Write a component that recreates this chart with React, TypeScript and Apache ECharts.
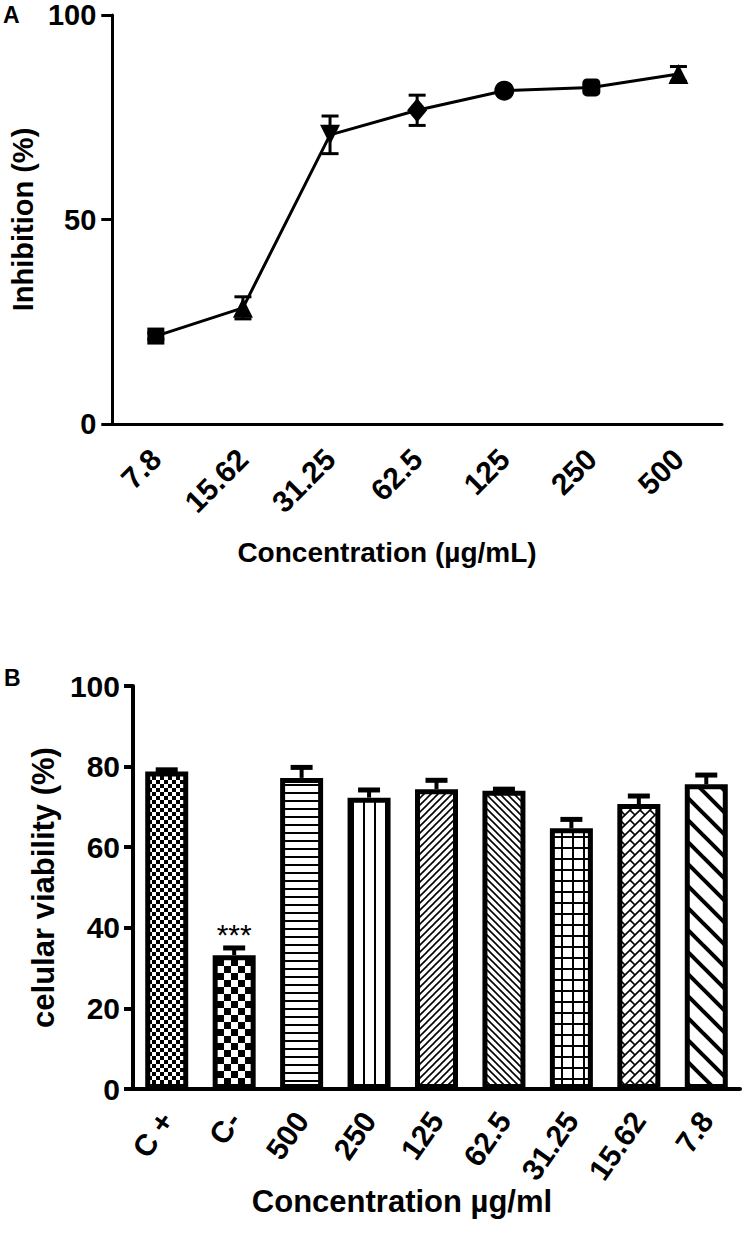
import React, { useEffect, useRef } from "react";
import * as echarts from "echarts";

const FONT = "'Liberation Sans', Arial, Helvetica, sans-serif";

// ---------- Panel A data ----------
const inhibitionCategories = ["7.8", "15.62", "31.25", "62.5", "125", "250", "500"];
const inhibitionValues = [21.5, 28.4, 70.7, 76.7, 81.5, 82.3, 85.6];
const inhibitionErrors = [0.8, 2.7, 4.6, 3.7, 0.6, 0.6, 1.8];
const inhibitionMarkers = ["rect", "triangle", "triangleDown", "diamond", "circle", "roundRect", "triangle"];

// ---------- Panel B data ----------
const viabilityCategories = ["C +", "C-", "500", "250", "125", "62.5", "31.25", "15.62", "7.8"];
const viabilityValues = [78.8, 33.2, 77.2, 72.3, 74.4, 74.0, 64.7, 70.7, 75.6];
const viabilityErrors = [0.4, 1.8, 2.6, 1.9, 2.2, 0.4, 2.2, 2.0, 2.3];
const viabilityPatterns = ["fineCheck", "check", "hLines", "vLines", "diagUp", "diagDown", "grid", "brick", "wideDiag"];
const viabilitySignificance = ["", "***", "", "", "", "", "", "", ""];

const MARKER_SIZE: Record<string, any> = {
  rect: 17,
  triangle: 20,
  triangleDown: 20,
  diamond: [20, 24],
  circle: 20,
  roundRect: 18,
};

const TILE_SIZE: Record<string, number> = {
  fineCheck: 8,
  check: 14,
  hLines: 8,
  vLines: 11,
  diagUp: 7,
  diagDown: 7,
  grid: 11,
  brick: 10,
  wideDiag: 22,
};

function makeTile(kind: string): HTMLCanvasElement {
  const s = TILE_SIZE[kind] || 8;
  const c = document.createElement("canvas");
  c.width = s;
  c.height = s;
  const g = c.getContext("2d") as CanvasRenderingContext2D;
  g.fillStyle = "#fff";
  g.fillRect(0, 0, s, s);
  g.fillStyle = "#000";
  g.strokeStyle = "#000";
  const seg = (x1: number, y1: number, x2: number, y2: number, w: number) => {
    g.lineWidth = w;
    g.beginPath();
    g.moveTo(x1, y1);
    g.lineTo(x2, y2);
    g.stroke();
  };
  const h = s / 2;
  switch (kind) {
    case "fineCheck":
    case "check":
      g.fillRect(0, 0, h, h);
      g.fillRect(h, h, h, h);
      break;
    case "hLines":
      g.fillRect(0, 0, s, 2);
      break;
    case "vLines":
      g.fillRect(0, 0, 2, s);
      break;
    case "grid":
      g.fillRect(0, 0, s, 2);
      g.fillRect(0, 0, 2, s);
      break;
    case "diagUp":
      seg(-s, s, s, -s, 1.6);
      seg(0, s, s, 0, 1.6);
      seg(0, 2 * s, 2 * s, 0, 1.6);
      break;
    case "diagDown":
      seg(0, 0, s, s, 1.6);
      seg(-s, 0, s, 2 * s, 1.6);
      seg(0, -s, 2 * s, s, 1.6);
      break;
    case "wideDiag":
      seg(0, 0, s, s, 4);
      seg(-s, 0, s, 2 * s, 4);
      seg(0, -s, 2 * s, s, 4);
      break;
    case "brick":
      seg(-s, s, s, -s, 1.6);
      seg(0, s, s, 0, 1.6);
      seg(0, 2 * s, 2 * s, 0, 1.6);
      for (const dx of [-s, 0, s]) {
        for (const dy of [-s, 0, s]) {
          seg(dx, dy, dx + h, dy + h, 1.6);
        }
      }
      break;
  }
  return c;
}

function buildOption() {
  const lineData = inhibitionValues.map((v, i) => {
    const m = inhibitionMarkers[i];
    const down = m === "triangleDown";
    return {
      value: v,
      symbol: down ? "triangle" : m,
      symbolRotate: down ? 180 : 0,
      symbolSize: MARKER_SIZE[m],
    };
  });
  const errA = inhibitionValues.map((v, i) => [i, v - inhibitionErrors[i], v + inhibitionErrors[i]]);

  const barData = viabilityValues.map((v, i) => {
    const item: any = {
      value: v,
      itemStyle: {
        color: { image: makeTile(viabilityPatterns[i]), repeat: "repeat" },
        borderColor: "#000",
        borderWidth: 5,
      },
    };
    if (viabilitySignificance[i]) {
      item.label = {
        show: true,
        position: "top",
        distance: 6,
        formatter: viabilitySignificance[i],
        fontSize: 30,
        fontFamily: FONT,
        color: "#000",
      };
    }
    return item;
  });
  const errB = viabilityValues.map((v, i) => [i, v, v + viabilityErrors[i]]);

  const axisTextBold = { fontWeight: "bold", color: "#000", fontFamily: FONT };

  return {
    animation: false,
    backgroundColor: "#fff",
    textStyle: { fontFamily: FONT },
    grid: [
      { left: 108, top: 15, width: 614, height: 409 },
      { left: 133, top: 686, width: 607, height: 403 },
    ],
    xAxis: [
      {
        gridIndex: 0,
        type: "category",
        data: inhibitionCategories,
        boundaryGap: true,
        axisLine: { lineStyle: { color: "#000", width: 3 } },
        axisTick: { alignWithLabel: true, length: 10, lineStyle: { width: 3, color: "#000" } },
        axisLabel: { ...axisTextBold, rotate: 45, margin: 30, fontSize: 30, interval: 0 },
        splitLine: { show: false },
      },
      {
        gridIndex: 1,
        type: "category",
        data: viabilityCategories,
        boundaryGap: true,
        axisLine: { lineStyle: { color: "#000", width: 4 } },
        axisTick: { alignWithLabel: true, length: 10, lineStyle: { width: 3, color: "#000" } },
        axisLabel: { ...axisTextBold, rotate: 55, margin: 26, fontSize: 30, interval: 0 },
        splitLine: { show: false },
      },
    ],
    yAxis: [
      {
        gridIndex: 0,
        type: "value",
        min: 0,
        max: 100,
        interval: 50,
        splitLine: { show: false },
        axisLine: { show: true, lineStyle: { color: "#000", width: 3 } },
        axisTick: { show: true, length: 11, lineStyle: { width: 3, color: "#000" } },
        axisLabel: { ...axisTextBold, margin: 16, fontSize: 29 },
        name: "Inhibition (%)",
        nameLocation: "middle",
        nameGap: 74,
        nameTextStyle: { ...axisTextBold, fontSize: 29 },
      },
      {
        gridIndex: 1,
        type: "value",
        min: 0,
        max: 100,
        interval: 20,
        splitLine: { show: false },
        axisLine: { show: true, lineStyle: { color: "#000", width: 4 } },
        axisTick: { show: true, length: 9, lineStyle: { width: 4, color: "#000" } },
        axisLabel: { ...axisTextBold, margin: 13, fontSize: 30 },
        name: "celular viability (%)",
        nameLocation: "middle",
        nameGap: 70,
        nameTextStyle: { ...axisTextBold, fontSize: 31 },
      },
    ],
    series: [
      {
        type: "line",
        xAxisIndex: 0,
        yAxisIndex: 0,
        data: lineData,
        lineStyle: { color: "#000", width: 3 },
        itemStyle: { color: "#000", borderWidth: 0 },
        showAllSymbol: true,
        z: 3,
      },
      {
        type: "custom",
        xAxisIndex: 0,
        yAxisIndex: 0,
        data: errA,
        encode: { x: 0, y: [1, 2] },
        z: 4,
        renderItem: (_p: any, api: any) => {
          const lo = api.coord([api.value(0), api.value(1)]);
          const hi = api.coord([api.value(0), api.value(2)]);
          const w = 8.5;
          const st = { stroke: "#000", lineWidth: 3 };
          return {
            type: "group",
            children: [
              { type: "line", shape: { x1: lo[0], y1: lo[1], x2: hi[0], y2: hi[1] }, style: st },
              { type: "line", shape: { x1: lo[0] - w, y1: lo[1], x2: lo[0] + w, y2: lo[1] }, style: st },
              { type: "line", shape: { x1: hi[0] - w, y1: hi[1], x2: hi[0] + w, y2: hi[1] }, style: st },
            ],
          };
        },
      },
      {
        type: "bar",
        xAxisIndex: 1,
        yAxisIndex: 1,
        data: barData,
        barWidth: 43,
        z: 2,
      },
      {
        type: "custom",
        xAxisIndex: 1,
        yAxisIndex: 1,
        data: errB,
        encode: { x: 0, y: [1, 2] },
        z: 3,
        renderItem: (_p: any, api: any) => {
          const lo = api.coord([api.value(0), api.value(1)]);
          const hi = api.coord([api.value(0), api.value(2)]);
          const w = 11;
          return {
            type: "group",
            children: [
              { type: "line", shape: { x1: lo[0], y1: lo[1], x2: hi[0], y2: hi[1] }, style: { stroke: "#000", lineWidth: 4 } },
              { type: "line", shape: { x1: hi[0] - w, y1: hi[1], x2: hi[0] + w, y2: hi[1] }, style: { stroke: "#000", lineWidth: 5 } },
            ],
          };
        },
      },
    ],
    graphic: [
      {
        type: "text",
        x: 3,
        y: 15,
        style: {
          text: "A",
          font: "bold 23px " + FONT,
          fill: "#000",
          align: "left",
          verticalAlign: "middle",
          textAlign: "left",
          textVerticalAlign: "middle",
        },
      },
      {
        type: "text",
        x: 4,
        y: 678,
        style: {
          text: "B",
          font: "bold 23px " + FONT,
          fill: "#000",
          align: "left",
          verticalAlign: "middle",
          textAlign: "left",
          textVerticalAlign: "middle",
        },
      },
      {
        type: "text",
        x: 387,
        y: 552,
        style: {
          text: "Concentration (µg/mL)",
          fontSize: 28,
          fontWeight: "bold",
          fontFamily: FONT,
          fill: "#000",
          align: "center",
          verticalAlign: "middle",
          textAlign: "center",
          textVerticalAlign: "middle",
        },
      },
      {
        type: "text",
        x: 402,
        y: 1201,
        style: {
          text: "Concentration µg/ml",
          fontSize: 31,
          fontWeight: "bold",
          fontFamily: FONT,
          fill: "#000",
          align: "center",
          verticalAlign: "middle",
          textAlign: "center",
          textVerticalAlign: "middle",
        },
      },
    ],
  };
}

export default function App() {
  const ref = useRef<HTMLDivElement>(null);
  useEffect(() => {
    document.body.style.margin = "0";
    const chart = echarts.init(ref.current as HTMLDivElement, undefined, { renderer: "svg" });
    chart.setOption(buildOption() as any);
    return () => {
      chart.dispose();
    };
  }, []);
  return <div ref={ref} style={{ width: 746, height: 1235, background: "#fff" }} />;
}
